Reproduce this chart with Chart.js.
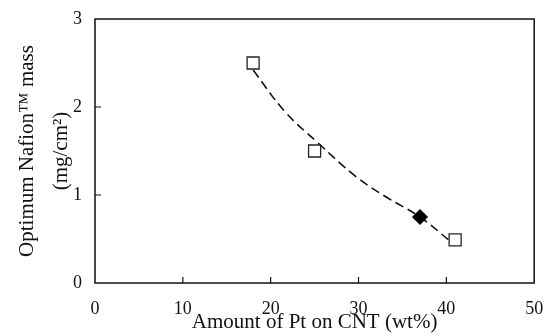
<!DOCTYPE html>
<html>
<head>
<meta charset="utf-8">
<script src="https://cdn.jsdelivr.net/npm/chart.js@4"></script>
<style>
  html, body { margin: 0; padding: 0; background: #fff; }
  #wrap { width: 544px; height: 336px; }
</style>
</head>
<body>
<div id="wrap"><canvas id="nafionChart" width="544" height="336"></canvas></div>
<script>
// measured points (open squares)
const ptLoading = [18, 25, 41];
const nafionMass = [2.5, 1.5, 0.49];
// optimum point (filled diamond)
const optLoading = [37];
const optMass = [0.75];
// dashed trend curve
const curveX = [18, 21.6, 25.3, 29.7, 33.1, 37, 40.5];
const curveY = [2.42, 1.95, 1.6, 1.21, 0.98, 0.75, 0.47];
const xTicks = [0, 10, 20, 30, 40, 50];
const yTicks = [0, 1, 2, 3];

function pairs(xs, ys) {
    return xs.map(function (x, i) { return { x: x, y: ys[i] }; });
}

// box around the plot + short inward tick marks
const framePlugin = {
    id: 'frame',
    afterDatasetsDraw: function (chart) {
        const ctx = chart.ctx;
        const a = chart.chartArea;
        const xs = chart.scales.x, ys = chart.scales.y;
        ctx.save();
        ctx.strokeStyle = '#111';
        ctx.lineWidth = 1.5;
        ctx.strokeRect(a.left, a.top, a.right - a.left, a.bottom - a.top);
        ctx.lineWidth = 1.2;
        ctx.beginPath();
        xTicks.slice(1, -1).forEach(function (v) {
            const px = xs.getPixelForValue(v);
            ctx.moveTo(px, a.bottom);
            ctx.lineTo(px, a.bottom - 6);
        });
        yTicks.slice(1, -1).forEach(function (v) {
            const py = ys.getPixelForValue(v);
            ctx.moveTo(a.left, py);
            ctx.lineTo(a.left + 6, py);
        });
        ctx.stroke();
        ctx.restore();
    }
};

document.addEventListener('DOMContentLoaded', function () {
    const ctx = document.getElementById('nafionChart').getContext('2d');
    new Chart(ctx, {
        type: 'scatter',
        data: {
            datasets: [{
                label: 'trend',
                data: pairs(curveX, curveY),
                showLine: true,
                borderColor: '#111',
                borderWidth: 1.6,
                borderDash: [9, 5],
                tension: 0.4,
                pointRadius: 0,
                order: 3
            }, {
                label: 'measured',
                data: pairs(ptLoading, nafionMass),
                pointStyle: 'rect',
                pointRadius: 8.5,
                pointBackgroundColor: '#fff',
                pointBorderColor: '#222',
                pointBorderWidth: 1.3,
                showLine: false,
                order: 1
            }, {
                label: 'optimum',
                data: pairs(optLoading, optMass),
                pointStyle: 'rectRot',
                pointRadius: 7.5,
                pointBackgroundColor: '#000',
                pointBorderColor: '#000',
                pointBorderWidth: 1,
                showLine: false,
                order: 0
            }]
        },
        options: {
            responsive: false,
            animation: false,
            layout: { padding: { top: 19, right: 9, left: 0, bottom: 0 } },
            plugins: {
                legend: { display: false },
                tooltip: { enabled: false }
            },
            scales: {
                x: {
                    type: 'linear',
                    min: 0,
                    max: 50,
                    afterBuildTicks: function (axis) {
                        axis.ticks = xTicks.map(function (v) { return { value: v }; });
                    },
                    afterFit: function (axis) {
                        axis.height = 53;
                        axis.paddingLeft = 0;
                        axis.paddingRight = 0;
                    },
                    grid: { display: false, drawTicks: false },
                    border: { display: false },
                    ticks: {
                        color: '#111',
                        padding: 15,
                        maxRotation: 0,
                        font: { family: 'Liberation Serif', size: 18 }
                    },
                    title: {
                        display: true,
                        text: 'Amount of Pt on CNT (wt%)',
                        color: '#111',
                        padding: { top: 0, bottom: 2 },
                        font: { family: 'Liberation Serif', size: 21, lineHeight: 1.1 }
                    }
                },
                y: {
                    type: 'linear',
                    min: 0,
                    max: 3,
                    afterBuildTicks: function (axis) {
                        axis.ticks = yTicks.map(function (v) { return { value: v }; });
                    },
                    afterFit: function (axis) {
                        axis.width = 95;
                        axis.paddingTop = 0;
                        axis.paddingBottom = 0;
                    },
                    grid: { display: false, drawTicks: false },
                    border: { display: false },
                    ticks: {
                        color: '#111',
                        padding: 13,
                        font: { family: 'Liberation Serif', size: 18 }
                    },
                    title: {
                        display: true,
                        text: ['Optimum Nafion\u2122 mass', '(mg/cm\u00b2)'],
                        color: '#111',
                        padding: { top: 10, bottom: 0 },
                        font: { family: 'Liberation Serif', size: 21, lineHeight: 1.62 }
                    }
                }
            }
        },
        plugins: [framePlugin]
    });
});
</script>
</body>
</html>
